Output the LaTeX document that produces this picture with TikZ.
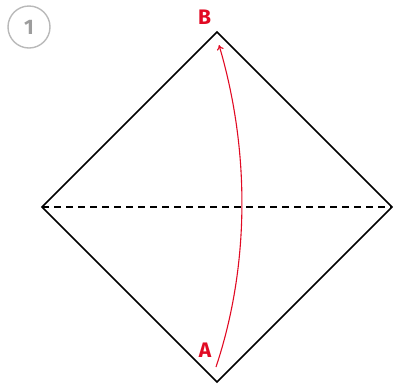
\documentclass[tikz,border=0pt]{standalone}
\usepackage{fontspec}
\setsansfont{Fira Sans}
\usetikzlibrary{arrows.meta}
\definecolor{foldred}{RGB}{225,10,35}
\definecolor{stepgray}{RGB}{185,185,185}
\begin{document}
\begin{tikzpicture}[x=1pt,y=-1pt,
  edge/.style={line width=1.5pt,black,line join=miter},
  foldline/.style={line width=1.4pt,black,dash pattern=on 7pt off 5pt},
  move/.style={line width=1.1pt,foldred,-{To[length=5pt,width=7pt]}},
  lbl/.style={font=\sffamily\bfseries\fontsize{21}{21}\selectfont,text=foldred,inner sep=0pt},
  stepnum/.style={circle,draw=stepgray,line width=1.4pt,minimum size=42pt,inner sep=0pt,text=stepgray!85!black,font=\sffamily\bfseries\fontsize{21}{21}\selectfont}]
\useasboundingbox (0,0) rectangle (393,384);
\coordinate (T) at (217,32);
\coordinate (R) at (392,207);
\coordinate (Bt) at (217,382);
\coordinate (L) at (42,207);
\draw[edge] (T) -- (R) -- (Bt) -- (L) -- cycle;
\draw[foldline] (L) -- (R);
\node[stepnum] (n1) at (29,27) {1};
\node[lbl] (B) at (204.5,17) {B};
\node[lbl] (A) at (205,350) {A};
\coordinate (s) at (216,367);
\coordinate (e) at (219,45);
\draw[move] (s) .. controls (250,265) and (250,150) .. (e);
\end{tikzpicture}
\end{document}
